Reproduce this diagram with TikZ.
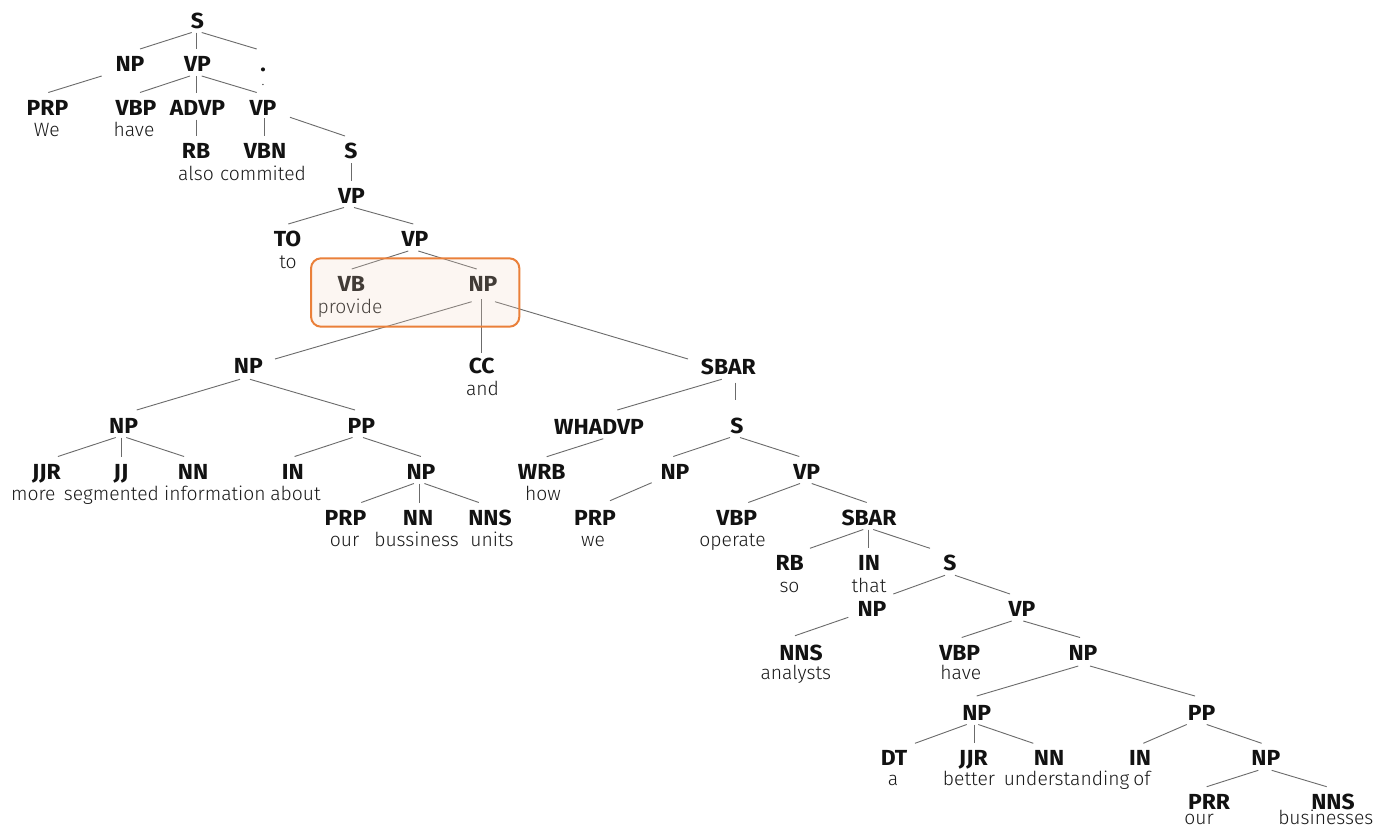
\documentclass[tikz,border=0pt]{standalone}
\usepackage{fontspec}
\setmainfont{Fira Sans}
\newfontfamily\tagfont{Fira Sans Bold}[FakeStretch=1.05]
\newfontfamily\wordfont{Fira Sans Light}
\definecolor{hlorange}{RGB}{234,128,58}
\definecolor{hlfill}{RGB}{245,217,197}
\newcommand\tagnode[4]{\node[tag] (#1) at (#2,#3+7.5) {#4};}
\newcommand\wordnode[4]{\node[word] (#1) at (#2,#3+29) {#4};}
\newcommand\EE[6]{\draw[edge] ([shift={(#2,#3-7.5)}]#1.base) -- ([shift={(#5,#6-7.5)}]#4.base);}
\newcommand\E[4]{\EE{#1}{#2}{12}{#3}{#4}{-15}}
\begin{document}
\begin{tikzpicture}[x=1pt,y=-1pt,
  tag/.style={anchor=base, inner sep=0pt, font=\tagfont\fontsize{21.8}{24}\selectfont, text=black!93},
  word/.style={anchor=base, inner sep=0pt, font=\wordfont\fontsize{19.3}{22}\selectfont, text=black!90},
  edge/.style={draw=black!58, line width=0.9pt},
  hlbox/.style={draw=hlorange, line width=2pt, fill=hlfill, fill opacity=0.21, rounded corners=10pt, inner sep=0pt}]
\fill[white] (0,0) rectangle (1375,827);
\useasboundingbox (0,0) rectangle (1375,827);
% tags and words
\tagnode{S0}{197.5}{20.5}{S}
\tagnode{NP1}{130}{64}{NP}
\tagnode{VP1}{197.5}{64}{VP}
\tagnode{PU}{263}{64}{.}
\node[word, font=\wordfont\fontsize{14}{16}\selectfont] (PUw) at (263,85) {.};
\tagnode{PRP1}{47.5}{107.5}{PRP}\wordnode{PRP1w}{46.7}{107.5}{We}
\tagnode{VBP1}{136}{107.5}{VBP}\wordnode{VBP1w}{134}{107.5}{have}
\tagnode{ADVP}{197.5}{107.5}{ADVP}
\tagnode{VP2}{263}{107.5}{VP}
\tagnode{RB1}{196}{151}{RB}\wordnode{RB1w}{196}{151}{also}
\tagnode{VBN}{265}{151}{VBN}\wordnode{VBNw}{263}{151}{commited}
\tagnode{S1}{351}{151}{S}
\tagnode{VP3}{351.5}{195.5}{VP}
\tagnode{TO}{287.5}{239}{TO}\wordnode{TOw}{288}{239}{to}
\tagnode{VP4}{415}{239}{VP}
\tagnode{VB}{351.5}{284}{VB}\wordnode{VBw}{350}{284}{provide}
\tagnode{NP2}{483}{284}{NP}
\tagnode{NP3}{248.3}{365.8}{NP}
\tagnode{CC}{481.7}{366}{CC}\wordnode{CCw}{482.5}{366}{and}
\tagnode{SBAR1}{728.3}{366.7}{SBAR}
\tagnode{NP4}{123.6}{425.5}{NP}
\tagnode{PP1}{361.3}{425.5}{PP}
\tagnode{WHADVP}{599}{426.7}{WHADVP}
\tagnode{S2}{737}{425.5}{S}
\tagnode{JJR1}{46.5}{471.5}{JJR}\wordnode{JJR1w}{33.3}{471.5}{more}
\tagnode{JJ}{121}{471.5}{JJ}\wordnode{JJw}{111.4}{471.5}{segmented}
\tagnode{NN1}{193}{471.5}{NN}\wordnode{NN1w}{214.9}{471.5}{information}
\tagnode{IN1}{292.8}{471.5}{IN}\wordnode{IN1w}{295.5}{471.5}{about}
\tagnode{NP5}{421}{471.5}{NP}
\tagnode{WRB}{541.7}{471.7}{WRB}\wordnode{WRBw}{543}{471.7}{how}
\tagnode{NP6}{675}{471.5}{NP}
\tagnode{VP5}{806.7}{471.5}{VP}
\tagnode{PRP2}{345.5}{517.5}{PRP}\wordnode{PRP2w}{344.6}{517.5}{our}
\tagnode{NN2}{418}{517.5}{NN}\wordnode{NN2w}{416.6}{517.5}{bussiness}
\tagnode{NNS1}{490}{517.5}{NNS}\wordnode{NNS1w}{492}{517.5}{units}
\tagnode{PRP3}{595}{517.5}{PRP}\wordnode{PRP3w}{593}{517.5}{we}
\tagnode{VBP2}{736.7}{517.5}{VBP}\wordnode{VBP2w}{732.5}{517.5}{operate}
\tagnode{SBAR2}{869}{517.5}{SBAR}
\tagnode{RB2}{789.7}{563.3}{RB}\wordnode{RB2w}{789.5}{563.3}{so}
\tagnode{IN2}{869}{563.3}{IN}\wordnode{IN2w}{869}{563.3}{that}
\tagnode{S3}{950}{563.3}{S}
\tagnode{NP7}{872}{609}{NP}
\tagnode{VP6}{1022}{609}{VP}
\tagnode{NNS2}{801}{652.5}{NNS}\wordnode{NNS2w}{795.8}{650.5}{analysts}
\tagnode{VBP3}{959.7}{652.5}{VBP}\wordnode{VBP3w}{960.8}{650.5}{have}
\tagnode{NP8}{1083}{652.5}{NP}
\tagnode{NP9}{976.7}{712.5}{NP}
\tagnode{PP2}{1201.7}{712.5}{PP}
\tagnode{DT}{894}{758.3}{DT}\wordnode{DTw}{893}{756.3}{a}
\tagnode{JJR2}{973.3}{758.3}{JJR}\wordnode{JJR2w}{969}{756.3}{better}
\tagnode{NN3}{1049}{758.3}{NN}\wordnode{NN3w}{1066.5}{756.3}{understanding}
\tagnode{IN3}{1140}{758.3}{IN}\wordnode{IN3w}{1142}{756.3}{of}
\tagnode{NP10}{1265.8}{758.3}{NP}
\tagnode{PRR}{1209}{801.7}{PRR}\wordnode{PRRw}{1199}{795.5}{our}
\tagnode{NNS3}{1333}{801.7}{NNS}\wordnode{NNS3w}{1325.8}{795.5}{businesses}
% edges
\E{S0}{-5.8}{NP1}{10}
\E{S0}{-0.8}{VP1}{-0.8}
\E{S0}{4.2}{PU}{-6.3}
\E{NP1}{-28.3}{PRP1}{0.8}
\E{VP1}{-7.5}{VBP1}{4}
\E{VP1}{-0.8}{ADVP}{-0.8}
\E{VP1}{4.2}{VP2}{-6.3}
\E{ADVP}{-0.8}{RB1}{0.7}
\EE{VP2}{1.3}{10.5}{VBN}{-0.7}{-15}
\EE{VP2}{27}{9.8}{S1}{-6}{-15}
\E{S1}{0.7}{VP3}{0.2}
\E{VP3}{-7.5}{TO}{0.8}
\E{VP3}{2.5}{VP4}{-1.7}
\E{VP4}{-6.7}{VB}{0.2}
\E{VP4}{3.3}{NP2}{-6.3}
\EE{NP2}{-11.3}{17.7}{NP3}{26.7}{-6.8}
\EE{NP2}{-1.3}{15}{CC}{0}{-13}
\EE{NP2}{12}{17.7}{SBAR1}{-40.3}{-7.7}
\EE{NP3}{-8.3}{13.5}{NP4}{13.1}{-15.5}
\EE{NP3}{1.7}{13.5}{PP1}{-6.3}{-15.5}
\E{NP4}{-7.9}{JJR1}{11.4}
\E{NP4}{-2.6}{JJ}{0}
\E{NP4}{2.7}{NN1}{-8.9}
\E{PP1}{-8.8}{IN1}{1.8}
\E{PP1}{1.7}{NP5}{-0.1}
\E{NP5}{-7.1}{PRP2}{15.8}
\E{NP5}{-1.1}{NN2}{1.9}
\E{NP5}{3.4}{NNS1}{-11.2}
\EE{SBAR1}{-6.6}{12.6}{WHADVP}{18.3}{-16.7}
\EE{SBAR1}{6.7}{16}{S2}{-2}{-25.5}
\E{WHADVP}{4.3}{WRB}{5}
\E{S2}{-7}{NP6}{-1.7}
\E{S2}{3}{VP5}{-7.4}
\EE{NP6}{-23.3}{11.2}{PRP3}{15}{-16.8}
\E{VP5}{-6.7}{VBP2}{11.6}
\E{VP5}{5}{SBAR2}{-2.3}
\E{SBAR2}{-5.7}{RB2}{20.3}
\E{SBAR2}{-0.7}{IN2}{-0.7}
\E{SBAR2}{4.3}{S3}{-20}
\E{S3}{-5}{NP7}{21.3}
\E{S3}{5}{VP6}{-12}
\EE{NP7}{-23.7}{8.3}{NNS2}{-6}{-16.8}
\E{VP6}{-10.3}{VBP3}{2}
\E{VP6}{1.3}{NP8}{-3}
\EE{NP8}{-4.7}{13.5}{NP9}{0}{-16.5}
\EE{NP8}{7}{13.5}{PP2}{-6.7}{-16.5}
\E{NP9}{-10}{DT}{21}
\E{NP9}{-2.4}{JJR2}{1}
\E{NP9}{1.6}{NN3}{-15.7}
\E{PP2}{-15}{IN3}{3.3}
\E{PP2}{5}{NP10}{-4.1}
\E{NP10}{-7.5}{PRR}{-2.3}
\E{NP10}{5.9}{NNS3}{-6.3}
% highlight box
\node[hlbox, minimum width=208.3pt, minimum height=68.4pt] (hl) at (415.2,292.5) {};
\end{tikzpicture}
\end{document}
